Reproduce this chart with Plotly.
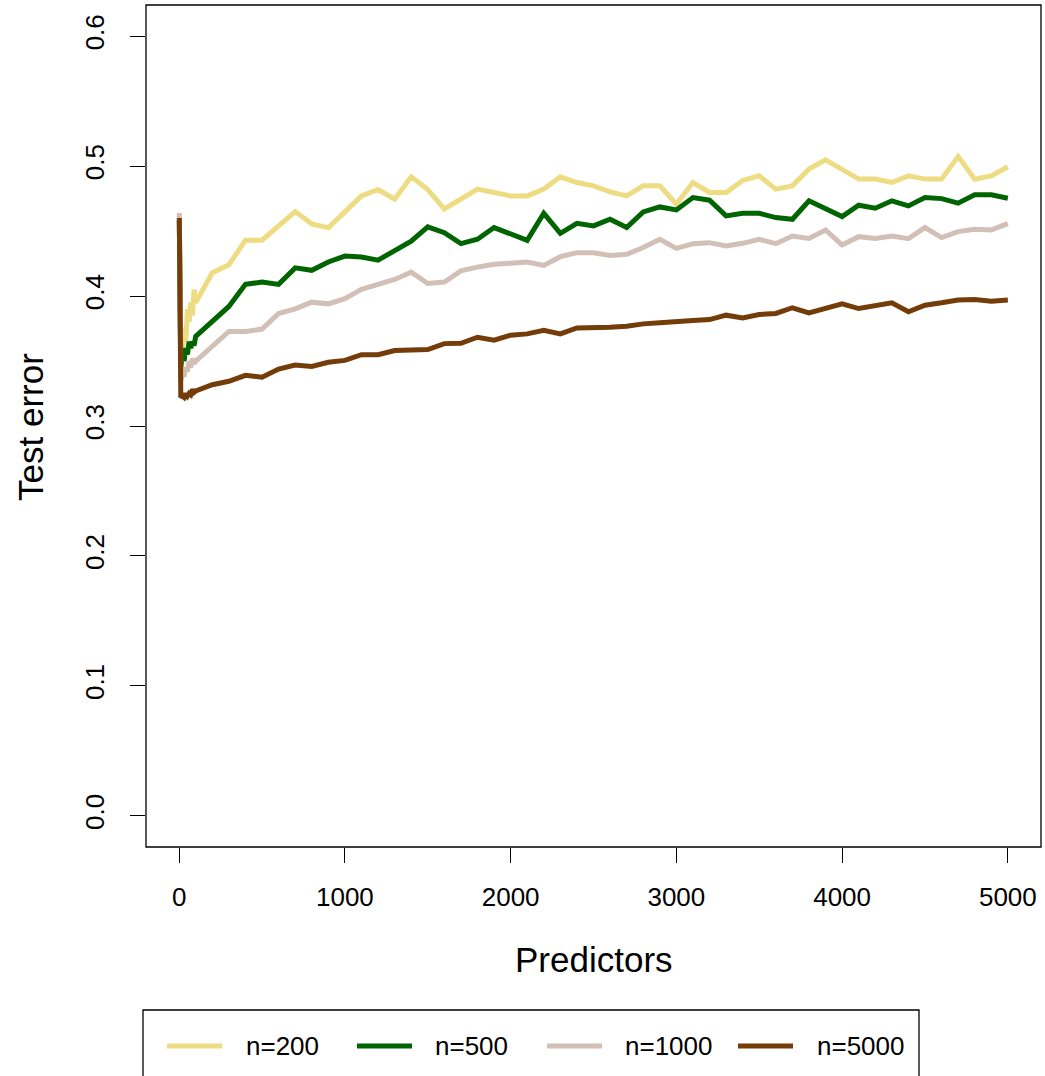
import plotly.graph_objects as go

# ---------------- data ----------------
predictors = [1, 10, 20, 30, 40, 50, 60, 70, 80, 90, 100,
              200, 300, 400, 500, 600, 700, 800, 900, 1000,
              1100, 1200, 1300, 1400, 1500, 1600, 1700, 1800, 1900, 2000,
              2100, 2200, 2300, 2400, 2500, 2600, 2700, 2800, 2900, 3000,
              3100, 3200, 3300, 3400, 3500, 3600, 3700, 3800, 3900, 4000,
              4100, 4200, 4300, 4400, 4500, 4600, 4700, 4800, 4900, 5000]

err_n200 = [0.458, 0.345, 0.360, 0.375, 0.365, 0.390, 0.380, 0.395, 0.385, 0.405, 0.395,
            0.418, 0.424, 0.443, 0.443, 0.4545, 0.465, 0.4556, 0.4525, 0.4648,
            0.477, 0.482, 0.4745, 0.4918, 0.482, 0.467, 0.4745, 0.4823, 0.4797, 0.4771,
            0.4771, 0.4823, 0.4918, 0.4874, 0.4848, 0.4802, 0.4771, 0.4848, 0.4848, 0.4707,
            0.4874, 0.4797, 0.4797, 0.489, 0.4925, 0.4823, 0.4848, 0.4977, 0.5049, 0.4972,
            0.490, 0.490, 0.4874, 0.4925, 0.490, 0.490, 0.5075, 0.490, 0.4925, 0.4995]

err_n500 = [0.458, 0.345, 0.355, 0.350, 0.360, 0.355, 0.365, 0.360, 0.365, 0.362, 0.369,
            0.3806, 0.392, 0.409, 0.4108, 0.409, 0.4217, 0.4198, 0.4262, 0.4308,
            0.430, 0.4276, 0.4352, 0.4423, 0.4533, 0.4488, 0.4404, 0.4437, 0.4527, 0.4475,
            0.4429, 0.4637, 0.4483, 0.456, 0.454, 0.4591, 0.4527, 0.4648, 0.4686, 0.4663,
            0.4758, 0.4738, 0.4617, 0.4637, 0.4637, 0.4604, 0.4591, 0.4733, 0.4673, 0.4612,
            0.4699, 0.4676, 0.4733, 0.4694, 0.4758, 0.475, 0.4715, 0.4779, 0.4779, 0.4753]

err_n1000 = [0.464, 0.335, 0.340, 0.338, 0.345, 0.342, 0.350, 0.345, 0.352, 0.348, 0.350,
             0.362, 0.3728, 0.3728, 0.3746, 0.3866, 0.3902, 0.3953, 0.394, 0.398,
             0.4051, 0.409, 0.4128, 0.4184, 0.4097, 0.4108, 0.4194, 0.4223, 0.4244, 0.4252,
             0.4262, 0.4236, 0.4303, 0.4334, 0.4334, 0.4313, 0.4321, 0.4373, 0.4437, 0.4367,
             0.4403, 0.4411, 0.4385, 0.4406, 0.4437, 0.4403, 0.4462, 0.4444, 0.4509, 0.4393,
             0.4457, 0.4444, 0.4462, 0.4442, 0.4527, 0.445, 0.4496, 0.4514, 0.4509, 0.4558]

err_n5000 = [0.460, 0.322, 0.323, 0.322, 0.325, 0.323, 0.325, 0.324, 0.328, 0.326, 0.327,
             0.3318, 0.3344, 0.339, 0.3376, 0.3438, 0.3469, 0.3458, 0.349, 0.3505,
             0.3549, 0.3549, 0.3581, 0.3581, 0.3588, 0.3634, 0.3637, 0.3683, 0.366, 0.3699,
             0.3709, 0.3737, 0.3709, 0.3755, 0.3755, 0.376, 0.3768, 0.3786, 0.3794, 0.3806,
             0.3812, 0.3819, 0.3853, 0.3832, 0.3858, 0.3866, 0.391, 0.3871, 0.391, 0.394,
             0.3904, 0.393, 0.3948, 0.3879, 0.393, 0.3948, 0.3969, 0.3974, 0.3961, 0.3969]

series_names = ["n=200", "n=500", "n=1000", "n=5000"]
series_values = [err_n200, err_n500, err_n1000, err_n5000]
series_colors = ["#EEDC82", "#006400", "#D2BFB6", "#733C08"]

x_ticks = [0, 1000, 2000, 3000, 4000, 5000]
y_ticks = [0.0, 0.1, 0.2, 0.3, 0.4, 0.5, 0.6]
y_tick_text = ["0.0", "0.1", "0.2", "0.3", "0.4", "0.5", "0.6"]

# ---------------- layout geometry (pixels) ----------------
W, H = 1045, 1076
L, R, T, B = 146, 4, 5, 229
PW, PH = W - L - R, H - T - B
FONT = "Liberation Sans, Arial, Helvetica, sans-serif"


def px_x(p):
    return (p - L) / PW


def px_y(p):
    return (H - B - p) / PH


fig = go.Figure()
for name, vals, col in zip(series_names, series_values, series_colors):
    fig.add_trace(go.Scatter(
        x=predictors, y=vals, mode="lines", name=name,
        line=dict(color=col, width=5), showlegend=False,
    ))

shapes = [dict(type="rect", xref="paper", yref="paper", x0=0, x1=1, y0=0, y1=1,
               line=dict(color="black", width=1.3), fillcolor="rgba(0,0,0,0)", layer="above")]
annotations = [
    dict(text="Predictors", xref="paper", yref="paper", x=px_x(593.5), y=px_y(959),
         xanchor="center", yanchor="middle", showarrow=False,
         font=dict(size=35, family=FONT, color="black")),
    dict(text="Test error", xref="paper", yref="paper", x=px_x(30), y=px_y(427),
         xanchor="center", yanchor="middle", showarrow=False, textangle=-90,
         font=dict(size=35, family=FONT, color="black")),
]

# legend box (manual, clipped at page bottom like the reference)
shapes.append(dict(type="rect", xref="paper", yref="paper",
                   x0=px_x(143), x1=px_x(919), y0=px_y(1010), y1=px_y(1100),
                   line=dict(color="black", width=1.3), fillcolor="rgba(0,0,0,0)"))
leg_line_x = [(167, 222), (357, 412), (547, 602), (738, 793)]
leg_text_x = [244, 433, 623, 815]
leg_y = 1046
for (a, b), tx, name, col in zip(leg_line_x, leg_text_x, series_names, series_colors):
    shapes.append(dict(type="line", xref="paper", yref="paper",
                       x0=px_x(a), x1=px_x(b), y0=px_y(leg_y), y1=px_y(leg_y),
                       line=dict(color=col, width=5)))
    annotations.append(dict(text=name, xref="paper", yref="paper", x=px_x(tx), y=px_y(leg_y),
                            xanchor="left", yanchor="middle", showarrow=False,
                            font=dict(size=26, family=FONT, color="black")))

fig.update_layout(
    width=W, height=H,
    margin=dict(l=L, r=R, t=T, b=B, autoexpand=False),
    paper_bgcolor="white", plot_bgcolor="white",
    font=dict(family=FONT, color="black"),
    shapes=shapes, annotations=annotations,
    xaxis=dict(range=[-200, 5200], tickvals=x_ticks, ticks="outside", ticklen=15,
               tickwidth=1.3, tickcolor="black", showgrid=False, zeroline=False,
               showline=False, tickfont=dict(size=26, family=FONT, color="black"),
               ticklabelstandoff=12),
    yaxis=dict(range=[-0.024, 0.624], tickvals=y_ticks, ticktext=y_tick_text,
               tickangle=-90, ticks="outside", ticklen=15, tickwidth=1.3,
               tickcolor="black", showgrid=False, zeroline=False, showline=False,
               tickfont=dict(size=26, family=FONT, color="black"),
               ticklabelstandoff=16),
)

fig.write_html("out.html")
